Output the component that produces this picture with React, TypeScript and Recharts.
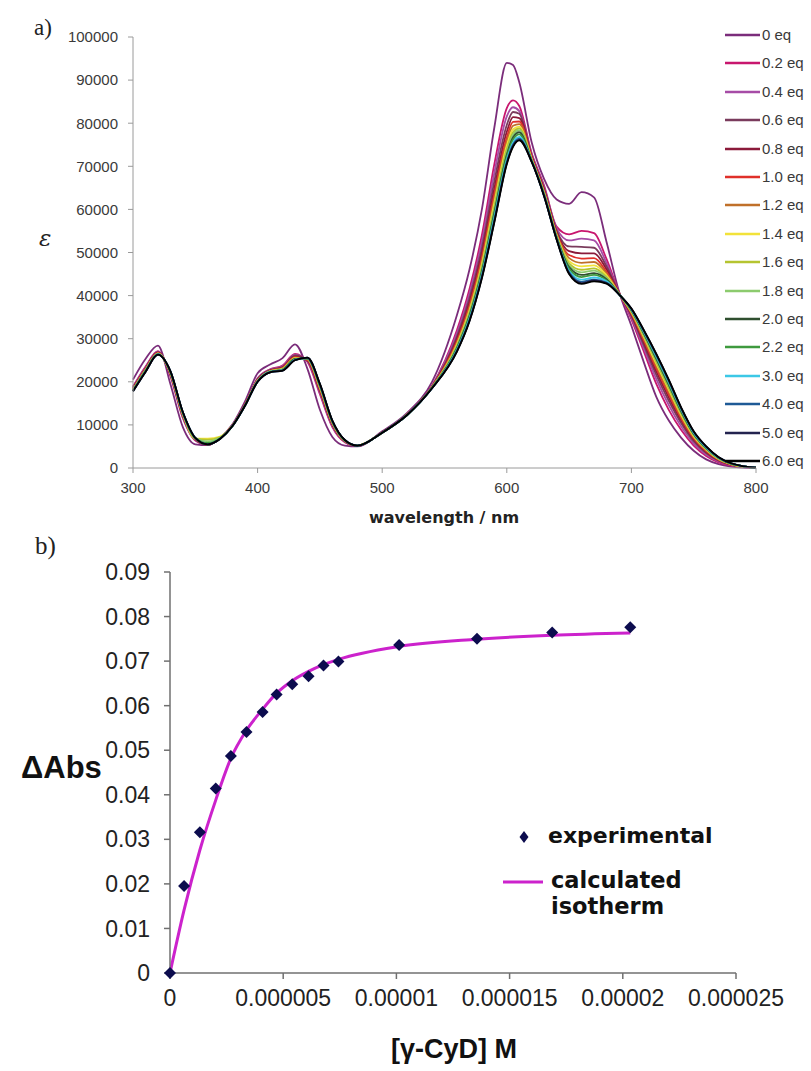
import React from 'react';
import { LineChart, Line, XAxis, YAxis, ComposedChart, Scatter } from 'recharts';

// ---------- Panel a) : absorption spectra ----------
const WAVELENGTHS = [300, 310, 320, 330, 340, 350, 360, 370, 380, 390, 400, 410, 420, 430, 440, 450, 460, 470, 480, 500, 520, 540, 560, 570, 580, 590, 600, 605, 610, 620, 630, 640, 650, 660, 670, 680, 690, 700, 710, 720, 730, 740, 750, 760, 770, 780, 790, 800];

const EQ_LABELS = ['0 eq', '0.2 eq', '0.4 eq', '0.6 eq', '0.8 eq', '1.0 eq', '1.2 eq', '1.4 eq', '1.6 eq', '1.8 eq', '2.0 eq', '2.2 eq', '3.0 eq', '4.0 eq', '5.0 eq', '6.0 eq'];
const EQ_COLORS = ['#7B2D7B', '#C8166E', '#A64CA6', '#7A3B5C', '#8B1A3A', '#E0302A', '#C0702A', '#F2E23A', '#B5C430', '#8CCB6E', '#2F4F2F', '#3E9A3E', '#3CC8E6', '#1E5A96', '#23234F', '#000000'];

const EPS_0_0 = [20500, 25300, 28400, 19500, 9500, 5500, 5300, 7000, 10200, 15500, 22000, 24000, 25500, 28700, 23000, 13500, 7200, 5200, 5000, 8500, 12800, 20000, 35500, 46000, 60000, 79000, 94000, 93500, 89500, 75500, 67000, 62300, 61300, 64000, 62800, 52500, 41000, 33000, 24500, 16500, 11000, 7000, 4000, 2000, 900, 350, 100, 0];
const EPS_0_2 = [18900, 23500, 27100, 21300, 11600, 6400, 5400, 6900, 10000, 14900, 20800, 22900, 23800, 26500, 24600, 17100, 9500, 6000, 5100, 8300, 12500, 19100, 32000, 41500, 54000, 70500, 83500, 85300, 84000, 73000, 65500, 56000, 54200, 55000, 54500, 48500, 40800, 34500, 27000, 19500, 13500, 8800, 5200, 2800, 1300, 550, 200, 50];
const EPS_0_4 = [18700, 23300, 27000, 21500, 11800, 6500, 5400, 6900, 10000, 14800, 20700, 22800, 23600, 26300, 24800, 17500, 9700, 6100, 5100, 8300, 12500, 19000, 31300, 40400, 52500, 68500, 81600, 83700, 82800, 72700, 65100, 55600, 52800, 53200, 52800, 47600, 40700, 34900, 27800, 20600, 14600, 9600, 5700, 3100, 1500, 600, 200, 100];
const EPS_0_6 = [18600, 23100, 26900, 21700, 12000, 6600, 5400, 6900, 9900, 14800, 20600, 22700, 23400, 26100, 24900, 17800, 10000, 6200, 5100, 8300, 12400, 18900, 30500, 39300, 51000, 66500, 79600, 82600, 82200, 72400, 64800, 55100, 51400, 51300, 51100, 46800, 40700, 35300, 28500, 21600, 15600, 10400, 6200, 3500, 1700, 700, 300, 100];
const EPS_0_8 = [18400, 23000, 26800, 21800, 12200, 6700, 5400, 6900, 9900, 14700, 20500, 22600, 23300, 25900, 25000, 18100, 10100, 6200, 5100, 8300, 12400, 18800, 29900, 38400, 49800, 64800, 78000, 81400, 81200, 72200, 64500, 54700, 50300, 49800, 49800, 46100, 40600, 35600, 29100, 22400, 16400, 11000, 6600, 3700, 1800, 800, 300, 100];
const EPS_1_0 = [18300, 22900, 26700, 21900, 12300, 6700, 5500, 6900, 9900, 14700, 20400, 22500, 23200, 25700, 25100, 18300, 10300, 6300, 5200, 8200, 12400, 18800, 29400, 37600, 48800, 63500, 76700, 80300, 80400, 72000, 64200, 54400, 49400, 48600, 48700, 45500, 40500, 35800, 29600, 23100, 17100, 11500, 6900, 3900, 1900, 800, 300, 100];
const EPS_1_2 = [18200, 22800, 26600, 22000, 12400, 6800, 5500, 6800, 9900, 14700, 20300, 22500, 23100, 25600, 25200, 18500, 10400, 6300, 5200, 8200, 12400, 18700, 29000, 37000, 48000, 62400, 75700, 79400, 79800, 71800, 64000, 54200, 48700, 47600, 47800, 45100, 40500, 36000, 30000, 23700, 17700, 11900, 7200, 4100, 2000, 900, 300, 100];
const EPS_1_4 = [18200, 22700, 26600, 22100, 12500, 6800, 6800, 7300, 9900, 14600, 20300, 22400, 23000, 25500, 25300, 18700, 10500, 6300, 5200, 8200, 12400, 18700, 28700, 36500, 47300, 61500, 74800, 78600, 79200, 71700, 63800, 54000, 48000, 46800, 47000, 44700, 40500, 36200, 30400, 24200, 18200, 12300, 7400, 4300, 2100, 900, 300, 100];
const EPS_1_6 = [18100, 22600, 26500, 22200, 12600, 6800, 6600, 7200, 9900, 14600, 20200, 22400, 22900, 25400, 25300, 18900, 10600, 6400, 5200, 8200, 12400, 18700, 28400, 36000, 46700, 60600, 74000, 77900, 78800, 71500, 63700, 53800, 47500, 46000, 46300, 44300, 40400, 36300, 30700, 24600, 18600, 12600, 7600, 4400, 2200, 900, 300, 100];
const EPS_1_8 = [18000, 22600, 26500, 22200, 12700, 6900, 6200, 7000, 9800, 14600, 20200, 22400, 22900, 25300, 25400, 19000, 10700, 6400, 5200, 8200, 12300, 18600, 28100, 35700, 46200, 60000, 73400, 77300, 78400, 71400, 63600, 53700, 47000, 45400, 45800, 44100, 40400, 36500, 30900, 25000, 19000, 12900, 7800, 4500, 2200, 1000, 400, 100];
const EPS_2_0 = [18000, 22500, 26400, 22300, 12800, 6900, 5500, 6800, 9800, 14600, 20100, 22300, 22800, 25300, 25400, 19100, 10700, 6400, 5200, 8200, 12300, 18600, 27900, 35300, 45700, 59300, 72700, 76700, 77900, 71300, 63400, 53500, 46600, 44800, 45200, 43800, 40400, 36600, 31200, 25300, 19300, 13100, 7900, 4600, 2300, 1000, 400, 100];
const EPS_2_2 = [17900, 22500, 26400, 22300, 12800, 6900, 5800, 6900, 9800, 14600, 20100, 22300, 22800, 25200, 25500, 19200, 10800, 6400, 5200, 8200, 12300, 18600, 27700, 35000, 45300, 58800, 72200, 76200, 77400, 71300, 63300, 53400, 46200, 44300, 44800, 43500, 40400, 36700, 31400, 25600, 19600, 13300, 8100, 4700, 2300, 1000, 400, 100];
const EPS_3_0 = [17900, 22400, 26400, 22400, 12900, 7000, 5500, 6800, 9800, 14500, 20100, 22300, 22700, 25100, 25500, 19300, 10900, 6500, 5200, 8200, 12300, 18500, 27400, 34600, 44800, 58100, 71500, 75500, 76800, 71200, 63200, 53200, 45700, 43700, 44200, 43300, 40300, 36800, 31600, 25900, 19900, 13600, 8200, 4800, 2400, 1100, 400, 100];
const EPS_4_0 = [17800, 22300, 26300, 22500, 12900, 7000, 5500, 6800, 9800, 14500, 20000, 22200, 22600, 25100, 25600, 19400, 10900, 6500, 5200, 8200, 12300, 18500, 27200, 34300, 44400, 57500, 71000, 75000, 76400, 71100, 63100, 53100, 45400, 43200, 43700, 43000, 40300, 36900, 31800, 26200, 20200, 13800, 8400, 4900, 2500, 1100, 400, 100];
const EPS_5_0 = [17800, 22300, 26300, 22500, 13000, 7000, 5500, 6800, 9800, 14500, 20000, 22200, 22600, 25000, 25600, 19500, 11000, 6500, 5200, 8200, 12300, 18500, 27100, 34100, 44200, 57200, 70700, 74700, 76100, 71000, 63000, 53000, 45100, 42900, 43500, 42900, 40300, 37000, 31900, 26400, 20400, 13900, 8500, 5000, 2500, 1100, 400, 100];
const EPS_6_0 = [17800, 22300, 26300, 22500, 13000, 7000, 5500, 6800, 9800, 14500, 20000, 22200, 22600, 25000, 25600, 19500, 11000, 6500, 5200, 8200, 12300, 18500, 27000, 34000, 44000, 57000, 70500, 74500, 76000, 71000, 63000, 53000, 45000, 42700, 43300, 42800, 40300, 37000, 32000, 26500, 20500, 14000, 8500, 5000, 2500, 1100, 400, 100];

const SPECTRA = [EPS_0_0, EPS_0_2, EPS_0_4, EPS_0_6, EPS_0_8, EPS_1_0, EPS_1_2, EPS_1_4, EPS_1_6, EPS_1_8, EPS_2_0, EPS_2_2, EPS_3_0, EPS_4_0, EPS_5_0, EPS_6_0];

const A_X_TICKS = [300, 400, 500, 600, 700, 800];
const A_Y_TICKS = [0, 10000, 20000, 30000, 40000, 50000, 60000, 70000, 80000, 90000, 100000];

// ---------- Panel b) : binding isotherm ----------
const CONC = [0, 0.00000062, 0.00000132, 0.00000202, 0.00000269, 0.00000338, 0.00000409, 0.00000471, 0.0000054, 0.00000612, 0.00000678, 0.00000744, 0.00001012, 0.00001356, 0.00001688, 0.00002033];
const DABS_EXP = [0, 0.0195, 0.0316, 0.0414, 0.0487, 0.0541, 0.0586, 0.0625, 0.0648, 0.0666, 0.069, 0.0699, 0.0736, 0.075, 0.0764, 0.0776];
const DABS_CALC = [0, 0.0141, 0.0276, 0.0388, 0.0482, 0.0545, 0.0592, 0.0628, 0.0656, 0.0677, 0.0692, 0.0704, 0.0733, 0.0749, 0.0758, 0.0763];

const B_X_TICKS = [0, 0.000005, 0.00001, 0.000015, 0.00002, 0.000025];
const B_X_LABELS = ['0', '0.000005', '0.00001', '0.000015', '0.00002', '0.000025'];
const B_Y_TICKS = [0, 0.01, 0.02, 0.03, 0.04, 0.05, 0.06, 0.07, 0.08, 0.09];
const B_Y_LABELS = ['0', '0.01', '0.02', '0.03', '0.04', '0.05', '0.06', '0.07', '0.08', '0.09'];

const specData = WAVELENGTHS.map((wl, i) => {
  const row: Record<string, number> = { wl };
  SPECTRA.forEach((s, j) => {
    row['s' + j] = s[i];
  });
  return row;
});

const isoData = CONC.map((x, i) => ({ x, exp: DABS_EXP[i], calc: DABS_CALC[i] }));

const ARIAL = '"Liberation Sans", Arial, sans-serif';
const BOLDSANS = '"DejaVu Sans", Verdana, sans-serif';
const SERIF = '"Liberation Serif", "Times New Roman", serif';

const Diamond = (props: any) => {
  const { cx, cy } = props;
  if (cx == null || cy == null) return null;
  const r = 6;
  return <path d={`M${cx},${cy - r}L${cx + r},${cy}L${cx},${cy + r}L${cx - r},${cy}Z`} fill="#0c0c4e" />;
};

export default function App() {
  return (
    <div style={{ position: 'absolute', left: 0, top: 0, width: 811, height: 1071, background: '#fff', overflow: 'hidden' }}>
      {/* Panel a */}
      <div style={{ position: 'absolute', left: 0, top: 0 }}>
        <LineChart width={811} height={540} data={specData} margin={{ top: 37, right: 55, left: 63, bottom: 42 }}>
          <XAxis
            dataKey="wl"
            type="number"
            domain={[300, 800]}
            ticks={A_X_TICKS}
            height={30}
            stroke="#9a9a9a"
            tickSize={5}
            tickMargin={9}
            tick={{ fill: '#3a3a3a', fontSize: 15, fontFamily: ARIAL }}
          />
          <YAxis
            type="number"
            domain={[0, 100000]}
            ticks={A_Y_TICKS}
            width={70}
            stroke="#9a9a9a"
            tickSize={5}
            tickMargin={10}
            tick={{ fill: '#3a3a3a', fontSize: 15, fontFamily: ARIAL }}
          />
          {SPECTRA.map((_, j) => (
            <Line
              key={j}
              dataKey={'s' + j}
              type="monotone"
              stroke={EQ_COLORS[j]}
              strokeWidth={1.8}
              dot={false}
              isAnimationActive={false}
            />
          ))}
        </LineChart>
      </div>

      {/* Legend a */}
      <div style={{ position: 'absolute', left: 725, top: 25 }}>
        {EQ_LABELS.map((lab, j) => (
          <div key={j} style={{ position: 'absolute', left: 0, top: j * 28.4, height: 20, width: 90, whiteSpace: 'nowrap' }}>
            <svg width={36} height={20} style={{ position: 'absolute', left: 0, top: 0 }}>
              <line x1={0} y1={10} x2={35} y2={10} stroke={EQ_COLORS[j]} strokeWidth={2.5} />
            </svg>
            <span style={{ position: 'absolute', left: 37, top: 1, fontFamily: ARIAL, fontSize: 15, color: '#3a3a3a', lineHeight: '18px' }}>{lab}</span>
          </div>
        ))}
      </div>

      <div style={{ position: 'absolute', left: 34, top: 15, fontFamily: SERIF, fontSize: 23, color: '#222' }}>a)</div>
      <div style={{ position: 'absolute', left: 39, top: 225, fontFamily: '"DejaVu Serif", "Liberation Serif", serif', fontStyle: 'italic', fontSize: 23, color: '#222' }}>ε</div>
      <div style={{ position: 'absolute', left: 444, top: 508, transform: 'translateX(-50%)', fontFamily: BOLDSANS, fontWeight: 'bold', fontSize: 16, color: '#222', whiteSpace: 'nowrap' }}>wavelength / nm</div>

      {/* Panel b */}
      <div style={{ position: 'absolute', left: 0, top: 540 }}>
        <ComposedChart width={811} height={531} data={isoData} margin={{ top: 32, right: 75, left: 100, bottom: 58 }}>
          <XAxis
            dataKey="x"
            type="number"
            domain={[0, 0.000025]}
            ticks={B_X_TICKS}
            tickFormatter={(v: number, i: number) => B_X_LABELS[i] ?? String(v)}
            height={40}
            stroke="#707070"
            strokeWidth={1.5}
            tickSize={6}
            tickMargin={11}
            tick={{ fill: '#222', fontSize: 23, fontFamily: ARIAL }}
          />
          <YAxis
            type="number"
            domain={[0, 0.09]}
            ticks={B_Y_TICKS}
            tickFormatter={(v: number, i: number) => B_Y_LABELS[i] ?? String(v)}
            width={70}
            stroke="#707070"
            strokeWidth={1.5}
            tickSize={6}
            tickMargin={14}
            tick={{ fill: '#222', fontSize: 23, fontFamily: ARIAL }}
          />
          <Line dataKey="calc" type="monotone" stroke="#CC22CC" strokeWidth={3} dot={false} isAnimationActive={false} />
          <Scatter dataKey="exp" shape={Diamond} isAnimationActive={false} />
        </ComposedChart>
      </div>

      <div style={{ position: 'absolute', left: 35, top: 532, fontFamily: SERIF, fontSize: 25, color: '#222' }}>b)</div>
      <div style={{ position: 'absolute', left: 21, top: 750, fontFamily: ARIAL, fontWeight: 'bold', fontSize: 31, color: '#111' }}>ΔAbs</div>
      <div style={{ position: 'absolute', left: 454, top: 1034, transform: 'translateX(-50%)', fontFamily: ARIAL, fontWeight: 'bold', fontSize: 27, color: '#111', whiteSpace: 'nowrap' }}>[γ-CyD] M</div>

      {/* Legend b */}
      <svg width={60} height={80} style={{ position: 'absolute', left: 495, top: 820 }}>
        <path d="M29,11L33.5,17L29,23L24.5,17Z" fill="#0c0c4e" />
        <line x1={8} y1={62} x2={48} y2={62} stroke="#CC22CC" strokeWidth={3} />
      </svg>
      <div style={{ position: 'absolute', left: 548, top: 823, fontFamily: BOLDSANS, fontWeight: 'bold', fontSize: 22, color: '#111', whiteSpace: 'nowrap' }}>experimental</div>
      <div style={{ position: 'absolute', left: 551, top: 867, fontFamily: BOLDSANS, fontWeight: 'bold', fontSize: 22.5, color: '#111', lineHeight: '26px', whiteSpace: 'nowrap' }}>
        calculated<br />isotherm
      </div>
    </div>
  );
}
